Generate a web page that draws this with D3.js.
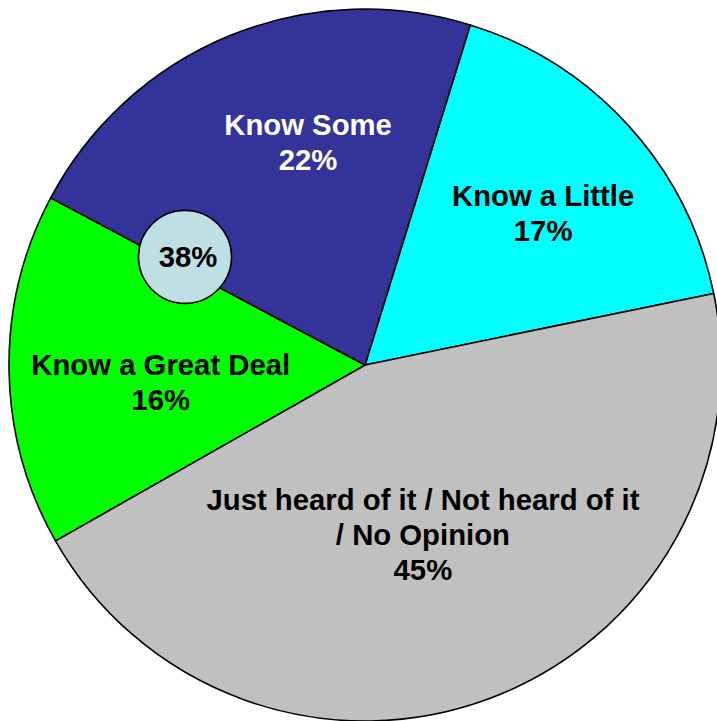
<!DOCTYPE html>
<html>
<head>
<meta charset="utf-8">
<script src="https://cdn.jsdelivr.net/npm/d3@7"></script>
<style>
html,body{margin:0;padding:0;background:#fff;}
svg{display:block;}
text{font-family:"Liberation Sans",Arial,sans-serif;font-weight:bold;}
</style>
</head>
<body>
<div id="chart"></div>
<script>
// ---- data ----
const categories = ["Know a Little", "Just heard of it / Not heard of it / No Opinion", "Know a Great Deal", "Know Some"];
const labelLines = [["Know a Little"], ["Just heard of it / Not heard of it", "/ No Opinion"], ["Know a Great Deal"], ["Know Some"]];
const values = [17, 45, 16, 22];
const calloutGroup = ["Know a Great Deal", "Know Some"];

// ---- style / layout ----
const colors = ["#00FFFF", "#C0C0C0", "#00FF00", "#333399"];
const textColors = ["#000", "#000", "#000", "#fff"];
const labelOffsets = [[12, -0.5], [-21, -40], [20, 14.5], [28.5, -15.5]];
const W = 717, H = 721, cx = 365, cy = 365, R = 356;
const fontSize = 29.3, lineH = 35;

const svg = d3.select("#chart").append("svg").attr("width", W).attr("height", H);
const g = svg.append("g").attr("transform", `translate(${cx},${cy})`);

const startA = 17.2 * Math.PI / 180;
const pie = d3.pie().sort(null).value(d => d).startAngle(startA).endAngle(startA + 2 * Math.PI);
const arcs = pie(values);
const arc = d3.arc().innerRadius(0).outerRadius(R);
const labelArc = d3.arc().innerRadius(R * 0.63).outerRadius(R * 0.63);

g.selectAll("path.slice").data(arcs).join("path")
  .attr("class", "slice")
  .attr("d", arc)
  .attr("fill", (d, i) => colors[i])
  .attr("stroke", "#000")
  .attr("stroke-width", 1.6)
  .attr("stroke-linejoin", "round");

const fmt = v => Math.round(v / d3.sum(values) * 100) + "%";

arcs.forEach((d, i) => {
  const c = labelArc.centroid(d);
  const x = c[0] + labelOffsets[i][0];
  const y = c[1] + labelOffsets[i][1];
  const lines = labelLines[i].concat([fmt(values[i])]);
  const n = lines.length;
  const t = g.append("text")
    .attr("text-anchor", "middle")
    .attr("fill", textColors[i])
    .attr("font-size", fontSize);
  lines.forEach((ln, k) => {
    t.append("tspan").attr("x", x).attr("y", y + 10 + (k - (n - 1) / 2) * lineH).text(ln);
  });
});

// callout circle for combined "know" share
const idxA = categories.indexOf(calloutGroup[0]);
const boundary = arcs[idxA].endAngle + 3 * Math.PI / 180;
const cr = 210;
const ccx = cr * Math.sin(boundary), ccy = -cr * Math.cos(boundary);
const combined = d3.sum(calloutGroup.map(c => values[categories.indexOf(c)]));
g.append("circle").attr("cx", ccx).attr("cy", ccy).attr("r", 46.5)
  .attr("fill", "#BEE0E4").attr("stroke", "#000").attr("stroke-width", 1.6);
g.append("text").attr("x", ccx + 3).attr("y", ccy + 10).attr("text-anchor", "middle")
  .attr("font-size", fontSize).attr("fill", "#000").text(fmt(combined));
</script>
</body>
</html>
